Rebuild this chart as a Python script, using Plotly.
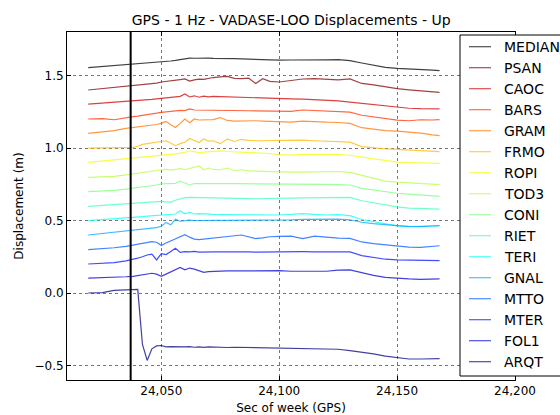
import plotly.graph_objects as go

# Time nodes (seconds of GPS week)
T = [24019, 24025, 24030, 24035, 24038, 24040, 24042, 24044, 24046, 24048,
     24050, 24052, 24054, 24056, 24058, 24060, 24062, 24064, 24066, 24068,
     24070, 24072, 24075, 24078, 24081, 24084, 24087, 24090, 24093, 24096,
     24100, 24105, 24110, 24115, 24120, 24125, 24130, 24135, 24140, 24145,
     24150, 24155, 24160, 24165, 24168]

EVENT_TIME = 24037

MEDIAN = [1.555, 1.562, 1.568, 1.575, 1.579, 1.581, 1.583, 1.586, 1.588, 1.591,
          1.594, 1.597, 1.600, 1.604, 1.611, 1.617, 1.620, 1.619, 1.621, 1.619,
          1.620, 1.618, 1.619, 1.618, 1.616, 1.614, 1.612, 1.610, 1.608, 1.607,
          1.606, 1.607, 1.606, 1.607, 1.608, 1.610, 1.602, 1.586, 1.570, 1.556,
          1.549, 1.546, 1.542, 1.537, 1.533]
PSAN = [1.400, 1.409, 1.417, 1.426, 1.430, 1.433, 1.436, 1.440, 1.443, 1.448,
        1.455, 1.458, 1.461, 1.465, 1.472, 1.476, 1.462, 1.470, 1.475, 1.473,
        1.480, 1.486, 1.490, 1.494, 1.480, 1.478, 1.482, 1.445, 1.478, 1.460,
        1.455, 1.465, 1.476, 1.478, 1.472, 1.470, 1.476, 1.445, 1.435, 1.420,
        1.409, 1.401, 1.395, 1.388, 1.384]
CAOC = [1.303, 1.309, 1.314, 1.321, 1.325, 1.327, 1.329, 1.332, 1.335, 1.339,
        1.342, 1.345, 1.348, 1.350, 1.356, 1.373, 1.352, 1.360, 1.350, 1.358,
        1.353, 1.356, 1.354, 1.355, 1.352, 1.350, 1.348, 1.345, 1.343, 1.342,
        1.341, 1.339, 1.337, 1.334, 1.330, 1.325, 1.317, 1.308, 1.298, 1.288,
        1.280, 1.274, 1.271, 1.269, 1.270]
BARS = [1.200, 1.203, 1.195, 1.212, 1.217, 1.220, 1.224, 1.229, 1.234, 1.240,
        1.246, 1.250, 1.253, 1.256, 1.259, 1.258, 1.270, 1.262, 1.262, 1.260,
        1.262, 1.261, 1.262, 1.260, 1.259, 1.258, 1.257, 1.256, 1.255, 1.253,
        1.250, 1.252, 1.262, 1.258, 1.252, 1.250, 1.247, 1.226, 1.216, 1.207,
        1.192, 1.188, 1.195, 1.193, 1.196]
GRAM = [1.101, 1.110, 1.120, 1.135, 1.142, 1.146, 1.150, 1.154, 1.158, 1.162,
        1.172, 1.184, 1.160, 1.142, 1.170, 1.200, 1.175, 1.200, 1.193, 1.195,
        1.192, 1.196, 1.210, 1.190, 1.186, 1.188, 1.187, 1.188, 1.186, 1.184,
        1.182, 1.178, 1.186, 1.180, 1.178, 1.176, 1.170, 1.140, 1.128, 1.120,
        1.116, 1.110, 1.102, 1.090, 1.085]
FRMO = [0.999, 1.000, 1.001, 1.003, 1.004, 1.012, 1.025, 1.030, 1.035, 1.040,
        1.045, 1.050, 1.035, 1.016, 1.030, 1.040, 1.066, 1.050, 1.038, 1.062,
        1.048, 1.050, 1.030, 1.062, 1.045, 1.060, 1.052, 1.050, 1.051, 1.050,
        1.050, 1.052, 1.054, 1.050, 1.048, 1.045, 1.040, 1.010, 1.000, 0.994,
        0.990, 0.985, 0.980, 0.977, 0.975]
ROPI = [0.901, 0.910, 0.918, 0.926, 0.931, 0.934, 0.937, 0.941, 0.944, 0.948,
        0.951, 0.954, 0.957, 0.960, 0.965, 0.970, 0.981, 0.975, 0.968, 0.972,
        0.975, 0.978, 0.980, 0.976, 0.974, 0.972, 0.971, 0.970, 0.966, 0.962,
        0.955, 0.951, 0.956, 0.958, 0.958, 0.957, 0.950, 0.935, 0.925, 0.915,
        0.903, 0.900, 0.897, 0.895, 0.894]
TOD3 = [0.798, 0.800, 0.804, 0.815, 0.821, 0.825, 0.830, 0.835, 0.840, 0.845,
        0.850, 0.852, 0.848, 0.852, 0.858, 0.850, 0.860, 0.866, 0.876, 0.850,
        0.862, 0.852, 0.850, 0.862, 0.845, 0.850, 0.842, 0.840, 0.838, 0.836,
        0.834, 0.833, 0.834, 0.836, 0.837, 0.838, 0.832, 0.812, 0.790, 0.772,
        0.765, 0.760, 0.755, 0.749, 0.747]
CONI = [0.699, 0.703, 0.708, 0.716, 0.722, 0.725, 0.730, 0.735, 0.740, 0.745,
        0.752, 0.752, 0.752, 0.756, 0.772, 0.760, 0.745, 0.755, 0.757, 0.755,
        0.754, 0.755, 0.754, 0.755, 0.754, 0.754, 0.753, 0.752, 0.752, 0.752,
        0.752, 0.752, 0.751, 0.750, 0.749, 0.748, 0.745, 0.722, 0.710, 0.698,
        0.688, 0.682, 0.676, 0.670, 0.667]
RIET = [0.598, 0.604, 0.610, 0.617, 0.621, 0.623, 0.625, 0.627, 0.629, 0.631,
        0.632, 0.628, 0.625, 0.640, 0.650, 0.658, 0.660, 0.659, 0.657, 0.656,
        0.655, 0.655, 0.654, 0.654, 0.653, 0.652, 0.651, 0.650, 0.650, 0.652,
        0.655, 0.654, 0.656, 0.658, 0.660, 0.663, 0.660, 0.636, 0.622, 0.606,
        0.594, 0.585, 0.582, 0.580, 0.579]
TERI = [0.499, 0.505, 0.512, 0.518, 0.522, 0.525, 0.527, 0.530, 0.532, 0.535,
        0.538, 0.540, 0.540, 0.545, 0.566, 0.548, 0.556, 0.545, 0.548, 0.545,
        0.543, 0.542, 0.541, 0.540, 0.540, 0.539, 0.538, 0.538, 0.538, 0.538,
        0.538, 0.542, 0.548, 0.542, 0.538, 0.540, 0.534, 0.507, 0.492, 0.480,
        0.463, 0.458, 0.458, 0.463, 0.465]
GNAL = [0.400, 0.410, 0.418, 0.427, 0.432, 0.436, 0.440, 0.444, 0.448, 0.451,
        0.460, 0.487, 0.470, 0.508, 0.495, 0.499, 0.502, 0.500, 0.501, 0.500,
        0.500, 0.500, 0.501, 0.501, 0.501, 0.500, 0.500, 0.500, 0.500, 0.500,
        0.502, 0.505, 0.508, 0.509, 0.510, 0.510, 0.505, 0.488, 0.478, 0.470,
        0.465, 0.460, 0.458, 0.462, 0.465]
MTTO = [0.299, 0.305, 0.312, 0.322, 0.330, 0.336, 0.342, 0.348, 0.354, 0.350,
        0.327, 0.345, 0.360, 0.375, 0.390, 0.402, 0.385, 0.372, 0.368, 0.372,
        0.378, 0.382, 0.386, 0.390, 0.395, 0.400, 0.386, 0.375, 0.380, 0.388,
        0.390, 0.392, 0.375, 0.392, 0.385, 0.378, 0.377, 0.352, 0.340, 0.332,
        0.322, 0.316, 0.314, 0.320, 0.326]
MTER = [0.200, 0.203, 0.210, 0.222, 0.230, 0.240, 0.250, 0.262, 0.268, 0.228,
        0.272, 0.265, 0.286, 0.308, 0.280, 0.285, 0.283, 0.287, 0.282, 0.284,
        0.283, 0.284, 0.283, 0.284, 0.283, 0.283, 0.284, 0.282, 0.283, 0.284,
        0.285, 0.285, 0.285, 0.284, 0.283, 0.285, 0.283, 0.258, 0.245, 0.233,
        0.228, 0.226, 0.225, 0.224, 0.223]
FOL1 = [0.102, 0.104, 0.108, 0.112, 0.115, 0.120, 0.126, 0.132, 0.136, 0.130,
        0.115, 0.130, 0.145, 0.158, 0.176, 0.160, 0.172, 0.165, 0.155, 0.143,
        0.148, 0.150, 0.150, 0.152, 0.152, 0.153, 0.154, 0.153, 0.154, 0.155,
        0.154, 0.150, 0.152, 0.150, 0.150, 0.158, 0.160, 0.140, 0.122, 0.108,
        0.100, 0.097, 0.094, 0.095, 0.097]
ARQT = [0.000, 0.002, 0.018, 0.022, 0.025, 0.025, -0.355, -0.465, -0.385, -0.365,
        -0.362, -0.372, -0.370, -0.372, -0.370, -0.372, -0.370, -0.374, -0.372, -0.375,
        -0.372, -0.374, -0.373, -0.376, -0.374, -0.375, -0.376, -0.374, -0.376, -0.377,
        -0.376, -0.378, -0.380, -0.382, -0.385, -0.388, -0.398, -0.408, -0.420, -0.435,
        -0.445, -0.455, -0.455, -0.452, -0.452]

NAMES = ["MEDIAN", "PSAN", "CAOC", "BARS", "GRAM", "FRMO", "ROPI", "TOD3",
         "CONI", "RIET", "TERI", "GNAL", "MTTO", "MTER", "FOL1", "ARQT"]
SERIES = [MEDIAN, PSAN, CAOC, BARS, GRAM, FRMO, ROPI, TOD3,
          CONI, RIET, TERI, GNAL, MTTO, MTER, FOL1, ARQT]
COLORS = [(0, 0, 0), (128, 0, 0), (210, 0, 0), (255, 50, 0), (255, 117, 0),
          (255, 185, 0), (241, 252, 6), (182, 255, 65), (123, 255, 123),
          (65, 255, 182), (6, 255, 241), (0, 164, 255), (0, 91, 255),
          (0, 18, 255), (0, 0, 210), (0, 0, 128)]

X_TICKS = [24050, 24100, 24150, 24200]
Y_TICKS = [-0.5, 0.0, 0.5, 1.0, 1.5]

FONT = "DejaVu Sans"
W, H = 560, 415
ML, MR, MT, MB = 67, 45, 32, 35
PW, PH = W - ML - MR, H - MT - MB


def px(xpix):
    return (xpix - ML) / PW


def py(ypix):
    return (H - MB - ypix) / PH


def rgba(c, a):
    return f"rgba({c[0]},{c[1]},{c[2]},{a})"


fig = go.Figure()
for name, vals, c in zip(NAMES, SERIES, COLORS):
    fig.add_trace(go.Scatter(
        x=T, y=vals, mode="lines", name=name, showlegend=False,
        line=dict(color=rgba(c, 0.75), width=1.2),
    ))

fig.add_shape(type="line", xref="x", yref="paper", x0=EVENT_TIME, x1=EVENT_TIME,
              y0=0, y1=1, line=dict(color="black", width=2))

# Legend box (matplotlib-style, partially outside the canvas)
fig.add_shape(type="rect", xref="paper", yref="paper",
              x0=px(460), x1=px(600), y0=py(376), y1=py(35),
              fillcolor="white", line=dict(color="black", width=1), layer="above")
for i, (name, c) in enumerate(zip(NAMES, COLORS)):
    yy = 46.7 + 21 * i
    fig.add_shape(type="line", xref="paper", yref="paper",
                  x0=px(469), x1=px(491), y0=py(yy), y1=py(yy),
                  line=dict(color=rgba(c, 0.7), width=1.2), layer="above")
    fig.add_annotation(text=name, xref="paper", yref="paper",
                       x=px(502), y=py(yy), xanchor="left", yanchor="middle",
                       showarrow=False,
                       font=dict(family=FONT, size=14, color="black"))

axis_common = dict(
    showline=True, linecolor="black", linewidth=1, mirror="ticks",
    ticks="inside", ticklen=4, tickcolor="black",
    showgrid=True, gridcolor="#777", griddash="dot", gridwidth=0.8,
    zeroline=False, tickfont=dict(family=FONT, size=12, color="black"),
)

fig.update_xaxes(range=[24010, 24200], tickvals=X_TICKS, tickformat=",d",
                 title=dict(text="Sec of week (GPS)", font=dict(family=FONT, size=12, color="black"), standoff=6),
                 **axis_common)
fig.update_yaxes(range=[-0.6, 1.8], tickvals=Y_TICKS, tickformat=".1f",
                 title=dict(text="Displacement (m)", font=dict(family=FONT, size=12, color="black"), standoff=8),
                 **axis_common)

fig.update_layout(
    width=W, height=H,
    margin=dict(l=ML, r=MR, t=MT, b=MB, autoexpand=False),
    paper_bgcolor="white", plot_bgcolor="white",
    title=dict(text="GPS - 1 Hz - VADASE-LOO Displacements - Up",
               font=dict(family=FONT, size=14, color="black"),
               x=0.52, xanchor="center", y=0.952, yanchor="middle"),
    font=dict(family=FONT, color="black"),
    showlegend=False,
)

fig.write_html("out.html")
